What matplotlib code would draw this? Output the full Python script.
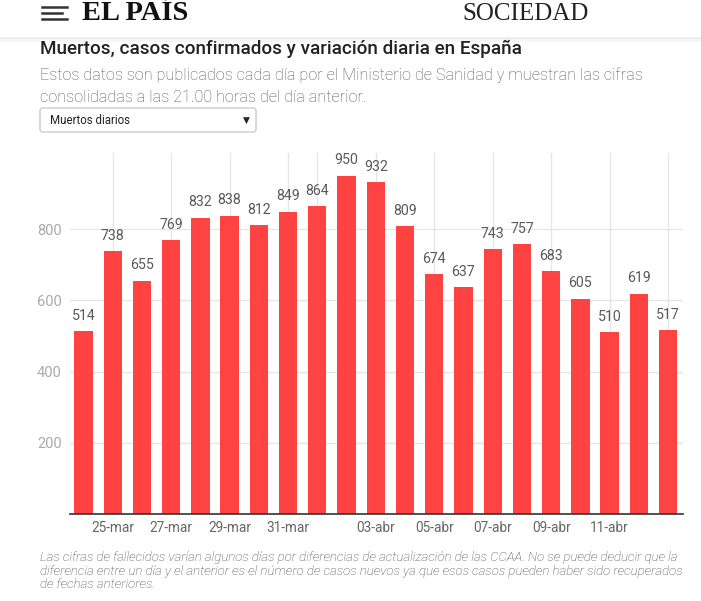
import matplotlib
matplotlib.use('Agg')
import matplotlib.pyplot as plt
from matplotlib.patches import FancyBboxPatch
from matplotlib.lines import Line2D

# ---- data ----
dates = ['24-mar', '25-mar', '26-mar', '27-mar', '28-mar', '29-mar', '30-mar', '31-mar',
         '01-abr', '02-abr', '03-abr', '04-abr', '05-abr', '06-abr', '07-abr', '08-abr',
         '09-abr', '10-abr', '11-abr', '12-abr', '13-abr']
deaths = [514, 738, 655, 769, 832, 838, 812, 849, 864, 950, 932, 809, 674, 637, 743, 757,
          683, 605, 510, 619, 517]
grid_dates = ['25-mar', '27-mar', '29-mar', '31-mar', '01-abr', '03-abr', '05-abr',
              '07-abr', '09-abr', '11-abr', '13-abr']
label_dates = ['25-mar', '27-mar', '29-mar', '31-mar', '03-abr', '05-abr', '07-abr',
               '09-abr', '11-abr']
y_ticks = [200, 400, 600, 800]

title = 'Muertos, casos confirmados y variación diaria en España'
subtitle = ['Estos datos son publicados cada día por el Ministerio de Sanidad y muestran las cifras',
            'consolidadas a las 21.00 horas del día anterior.']
dropdown = 'Muertos diarios'
footnote = ['Las cifras de fallecidos varían algunos días por diferencias de actualización de las CCAA. No se puede deducir que la',
            'diferencia entre un día y el anterior es el número de casos nuevos ya que esos casos pueden haber sido recuperados',
            'de fechas anteriores.']

SANS = ['Roboto', 'DejaVu Sans']
plt.rcParams['font.family'] = SANS

W, H = 701, 601
fig = plt.figure(figsize=(W / 100, H / 100), dpi=100)
fig.patch.set_facecolor('white')


def fx(x):
    return x / W


def fy(y):
    return 1 - y / H


# ---- header ----
fig.add_artist(Line2D([0, 1], [fy(38), fy(38)], color='#ececec', lw=2))
fig.add_artist(Line2D([0, 1], [fy(40), fy(40)], color='#f6f6f6', lw=2))
for yy, x2 in [(7, 67), (13, 62), (19, 67)]:
    fig.add_artist(Line2D([fx(42), fx(x2)], [fy(yy), fy(yy)], color='#333333', lw=1.8))
fig.text(fx(82), fy(14), 'EL PAÍS', family=['Liberation Serif', 'DejaVu Serif'],
         fontweight='bold', fontsize=20.5, color='#111111', va='center', ha='left')
fig.text(fx(526), fy(14), 'SOCIEDAD', family=['Liberation Serif', 'DejaVu Serif'],
         fontsize=18, color='#222222', va='center', ha='center')

# ---- titles ----
fig.text(fx(40), fy(49), title, fontweight='medium',
         fontsize=13.6, color='#222222', va='center', ha='left')
fig.text(fx(40), fy(75), subtitle[0], fontweight='light',
         fontsize=11.7, color='#555555', va='center', ha='left')
fig.text(fx(40), fy(97), subtitle[1], fontweight='light',
         fontsize=11.7, color='#555555', va='center', ha='left')

# dropdown
box = FancyBboxPatch((fx(40), fy(132)), fx(256) - fx(40), fy(108) - fy(132),
                     boxstyle='round,pad=0,rounding_size=0.004', transform=fig.transFigure,
                     facecolor='white', edgecolor='#cccccc', lw=1)
fig.add_artist(box)
fig.text(fx(50), fy(120), dropdown, fontsize=8.3,
         color='#222222', va='center', ha='left')
fig.text(fx(246), fy(120), '▼', family=['DejaVu Sans'], fontsize=6.5,
         color='#222222', va='center', ha='center')

# ---- chart ----
ax = fig.add_axes([fx(70), fy(514), fx(683) - fx(70), fy(153) - fy(514)])
x = list(range(len(dates)))
ax.bar(x, deaths, width=0.625, color='#ff4343', zorder=2)
ax.set_xlim(-0.46, len(dates) - 1 + 0.51)
ax.set_ylim(0, 1014)
for d in grid_dates:
    ax.axvline(dates.index(d), color='#e6e6e6', lw=1, zorder=0)
for v in y_ticks:
    ax.axhline(v, color='#e6e6e6', lw=1, zorder=0)

for xi, v in zip(x, deaths):
    ax.annotate(str(v), (xi, v), xytext=(0, 6), textcoords='offset points',
                ha='center', va='bottom', fontsize=10.2, color='#5a5a5a')

ax.set_yticks(y_ticks)
ax.set_yticklabels([str(v) for v in y_ticks])
ax.set_xticks([dates.index(d) for d in label_dates])
ax.set_xticklabels(label_dates)
ax.tick_params(axis='y', length=0, pad=6, labelsize=10.5, labelcolor='#aaaaaa')
ax.tick_params(axis='x', length=0, pad=5, labelsize=9.8, labelcolor='#666666')
for s in ['top', 'right', 'left']:
    ax.spines[s].set_visible(False)
ax.spines['bottom'].set_color('#333333')
ax.spines['bottom'].set_linewidth(1.2)
ax.set_facecolor('none')

# ---- footnote ----
for i, line in enumerate(footnote):
    fig.text(fx(40), fy(557 + 14 * i), line,
             fontstyle='italic', fontweight='light', fontsize=9.5, color='#444444',
             va='center', ha='left')

fig.savefig('out.png', dpi=100, facecolor='white')
